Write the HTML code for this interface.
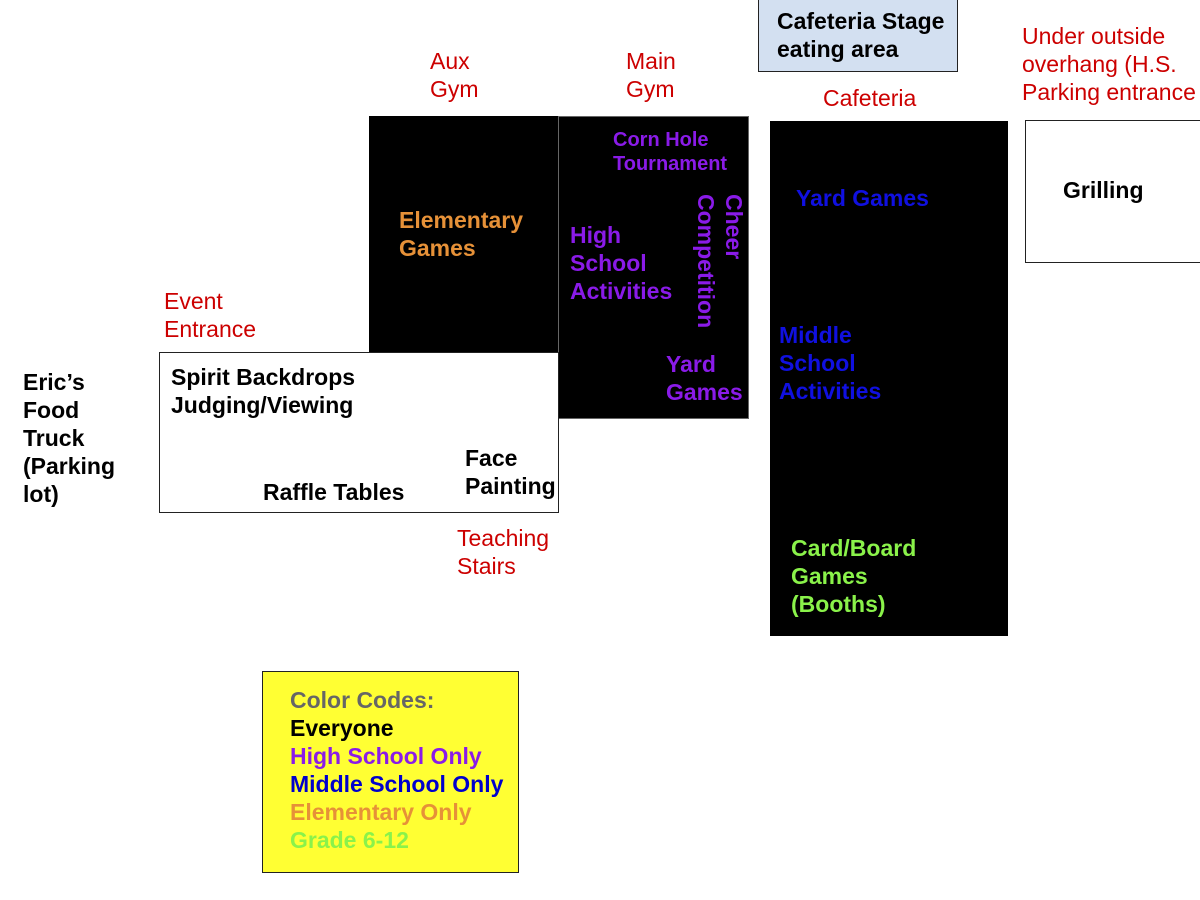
<!DOCTYPE html>
<html><head><style>
body{margin:0;width:1200px;height:900px;background:#fff;position:relative;overflow:hidden;font-family:"Liberation Sans",Arial,sans-serif;}
.a{position:absolute;}
.t{position:absolute;font-size:23px;line-height:28px;white-space:nowrap;}
.b{font-weight:bold;}
.r{color:#cc0000;}
.p{color:#8a1be8;}
.bl{color:#1010e0;}
.o{color:#e69138;}
.g{color:#8af24a;}
</style></head><body>
<div class="a" style="left:758px;top:-2px;width:198px;height:72px;background:#d3e0f1;border:1px solid #222;"></div>
<div class="t b" style="left:777px;top:7px;">Cafeteria Stage<br>eating area</div>

<div class="a" style="left:369px;top:116px;width:190px;height:237px;background:#000;"></div>
<div class="a" style="left:558px;top:116px;width:189px;height:301px;background:#000;border:1px solid #666;"></div>
<div class="a" style="left:770px;top:121px;width:238px;height:515px;background:#000;"></div>
<div class="a" style="left:1025px;top:120px;width:190px;height:141px;background:#fff;border:1px solid #222;"></div>
<div class="a" style="left:159px;top:352px;width:398px;height:159px;background:#fff;border:1px solid #222;"></div>
<div class="a" style="left:262px;top:671px;width:255px;height:200px;background:#ffff33;border:1px solid #222;"></div>

<div class="t r" style="left:430px;top:47px;">Aux<br>Gym</div>
<div class="t r" style="left:626px;top:47px;">Main<br>Gym</div>
<div class="t r" style="left:823px;top:84px;">Cafeteria</div>
<div class="t r" style="left:1022px;top:22px;">Under outside<br>overhang (H.S.<br>Parking entrance</div>
<div class="t r" style="left:164px;top:287px;">Event<br>Entrance</div>
<div class="t r" style="left:457px;top:524px;">Teaching<br>Stairs</div>

<div class="t b o" style="left:399px;top:206px;">Elementary<br>Games</div>
<div class="t b p" style="left:613px;top:128px;font-size:20px;line-height:24px;">Corn Hole<br>Tournament</div>
<div class="t b p" style="left:570px;top:221px;">High<br>School<br>Activities</div>
<div class="t b p" style="left:666px;top:350px;">Yard<br>Games</div>
<div class="t b p" style="left:696px;top:194px;transform-origin:0 0;transform:translate(52px,0) rotate(90deg);line-height:28px;">Cheer<br>Competition</div>

<div class="t b bl" style="left:796px;top:184px;">Yard Games</div>
<div class="t b bl" style="left:779px;top:321px;">Middle<br>School<br>Activities</div>
<div class="t b g" style="left:791px;top:534px;">Card/Board<br>Games<br>(Booths)</div>
<div class="t b" style="left:1063px;top:176px;">Grilling</div>

<div class="t b" style="left:171px;top:363px;">Spirit Backdrops<br>Judging/Viewing</div>
<div class="t b" style="left:263px;top:478px;">Raffle Tables</div>
<div class="t b" style="left:465px;top:444px;">Face<br>Painting</div>
<div class="t b" style="left:23px;top:368px;">Eric’s<br>Food<br>Truck<br>(Parking<br>lot)</div>

<div class="t b" style="left:290px;top:686px;color:#666;">Color Codes:</div>
<div class="t b" style="left:290px;top:714px;">Everyone</div>
<div class="t b p" style="left:290px;top:742px;">High School Only</div>
<div class="t b" style="left:290px;top:770px;color:#0000cc;">Middle School Only</div>
<div class="t b o" style="left:290px;top:798px;">Elementary Only</div>
<div class="t b g" style="left:290px;top:826px;">Grade 6-12</div>
</body></html>
